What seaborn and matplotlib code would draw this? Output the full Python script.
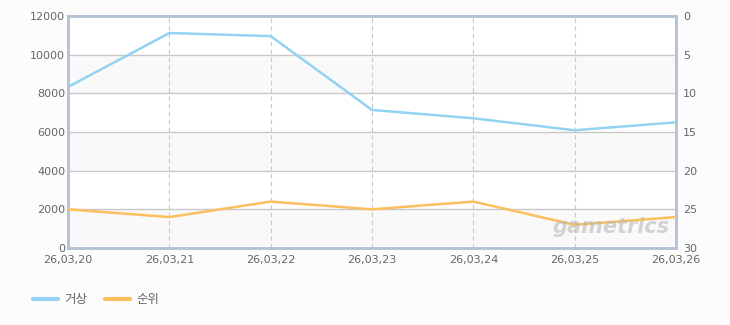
import matplotlib
matplotlib.use("Agg")
import matplotlib.pyplot as plt
import seaborn as sns
import pandas as pd
from matplotlib.lines import Line2D

dates = ["26,03,20", "26,03,21", "26,03,22", "26,03,23", "26,03,24", "26,03,25", "26,03,26"]
geosang = [8330, 11120, 10960, 7140, 6710, 6090, 6500]
rank = [25, 26, 24, 25, 24, 27, 26]
left_ticks = [0, 2000, 4000, 6000, 8000, 10000, 12000]
right_ticks = [0, 5, 10, 15, 20, 25, 30]
series_names = ["거상", "순위"]

sns.set_theme(style="white")
plt.rcParams['font.family'] = ['Noto Sans CJK KR', 'DejaVu Sans']

BLUE = "#92d2f2"
ORANGE = "#fbbf5e"
SPINE = "#b3c3d5"
TXT = "#666666"

df = pd.DataFrame({"x": list(range(len(dates))), "v": geosang, "r": rank})

fig = plt.figure(figsize=(7.3, 3.25), dpi=100, facecolor="#fcfcfc")
ax = fig.add_axes([68/730, (325-248)/325, (676-68)/730, (248-16)/325])
ax.set_facecolor("white")

# alternating bands
for i in range(0, len(left_ticks) - 1):
    if i % 2 == 0:
        ax.axhspan(left_ticks[i], left_ticks[i+1], color="#f9f9f9", zorder=0, lw=0)

sns.lineplot(data=df, x="x", y="v", ax=ax, color=BLUE, lw=1.8, zorder=3)
ax.set_ylim(0, 12000)
ax.set_xlim(0, len(dates) - 1)
ax.set_yticks(left_ticks)
ax.set_yticklabels([str(t) for t in left_ticks])
ax.set_xticks(range(len(dates)))
ax.set_xticklabels(dates)
ax.set_xlabel("")
ax.set_ylabel("")
for t in left_ticks[1:-1]:
    ax.axhline(t, color="#c8c8c8", lw=1, zorder=1)
for i in range(1, len(dates) - 1):
    ax.axvline(i, color="#c8c8c8", lw=0.8, ls=(0, (4, 3)), zorder=1)

ax.tick_params(axis="y", length=0, labelsize=8, colors=TXT, pad=2)
ax.tick_params(axis="x", length=0, labelsize=8, colors=TXT, pad=5)
for s in ax.spines.values():
    s.set_color(SPINE)
    s.set_linewidth(1.8)

ax2 = ax.twinx()
sns.lineplot(data=df, x="x", y="r", ax=ax2, color=ORANGE, lw=1.8, zorder=3)
ax2.set_ylim(30, 0)
ax2.set_yticks(right_ticks)
ax2.set_yticklabels([str(t) for t in right_ticks])
ax2.set_ylabel("")
ax2.tick_params(axis="y", length=0, labelsize=8, colors=TXT, pad=5)
for s in ax2.spines.values():
    s.set_color(SPINE)
    s.set_linewidth(1.8)

for lab in ax.get_xticklabels():
    lab.set_fontfamily(['DejaVu Sans'])
for lab in ax.get_yticklabels() + ax2.get_yticklabels():
    lab.set_fontfamily(['DejaVu Sans'])

# watermark
fig.text(611/730, 1 - 227/325, "gametrics", fontsize=15, fontweight="bold", style="italic",
         color="#b5b5b5", alpha=0.55, ha="center", va="center", family="DejaVu Sans")

handles = [Line2D([0], [0], color=BLUE, lw=3), Line2D([0], [0], color=ORANGE, lw=3)]
fig.legend(handles, series_names, loc="center left", bbox_to_anchor=(22/730, 1 - 300/325),
           ncol=2, frameon=False, fontsize=9, handlelength=2.0, handletextpad=0.5,
           columnspacing=1.4, labelcolor=TXT)

fig.savefig("out.png", dpi=100, facecolor=fig.get_facecolor())
